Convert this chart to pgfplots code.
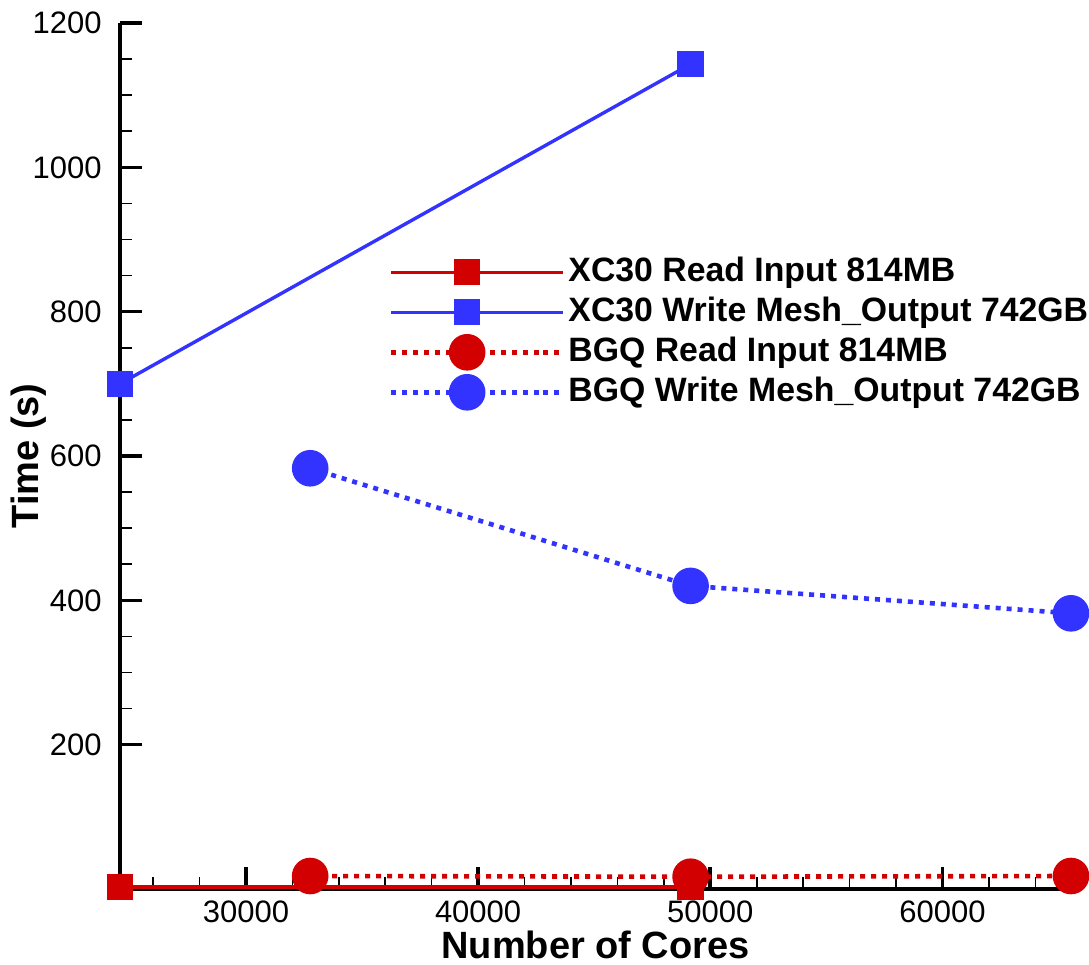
\documentclass[border=0pt]{standalone}
\usepackage{pgfplots}
\pgfplotsset{compat=1.18}
\usepackage{fontspec}
\setmainfont{Liberation Sans}
\definecolor{cred}{RGB}{210,0,0}
\definecolor{cblue}{RGB}{51,51,255}
\begin{document}
\begin{tikzpicture}
\begin{axis}[
  scale only axis,
  width=475.5pt, height=433pt,
  xmin=24576, xmax=65536,
  ymin=0, ymax=1200,
  axis lines=left,
  axis line style={line width=1.8pt, -},
  xtick={30000,40000,50000,60000},
  ytick={200,400,600,800,1000,1200},
  minor xtick={26000,28000,32000,34000,36000,38000,42000,44000,46000,48000,52000,54000,56000,58000,62000,64000},
  minor y tick num=3,
  tick align=inside,
  major tick length=11pt,
  minor tick length=6pt,
  major tick style={black, line width=1.8pt},
  minor tick style={black, line width=0.8pt},
  scaled x ticks=false,
  /pgf/number format/assume math mode=true,
  xticklabel={\pgfmathprintnumber[fixed,1000 sep={}]{\tick}},
  yticklabel={\pgfmathprintnumber[fixed,1000 sep={}]{\tick}},
  tick label style={font=\fontsize{15.5}{18}\selectfont},
  xticklabel style={anchor=base, inner sep=0pt, yshift=-17pt},
  yticklabel style={anchor=east, inner sep=0pt, xshift=-9pt},
  xlabel={\textbf{Number of Cores}},
  ylabel={\textbf{Time (s)}},
  label style={font=\fontsize{19}{22}\selectfont},
  xlabel style={at={(axis description cs:0.5,0)}, anchor=base, inner sep=0pt, yshift=-35pt},
  ylabel style={at={(axis description cs:0,0.5)}, anchor=center, inner sep=0pt, yshift=45.5pt},
  clip=false,
  legend style={at={(0.276,0.738)}, anchor=north west, draw=none, fill=none,
    font=\bfseries\fontsize{16.9}{19}\selectfont, row sep=2pt,
    nodes={text height=12pt, text depth=3pt, inner sep=1.5pt}},
  legend cell align=left,
  legend image code/.code={
    \draw[mark repeat=2,mark phase=2,#1] plot coordinates {(0pt,0pt)(38pt,0pt)(76pt,0pt)};
    \path (76pt,0pt) -- (86pt,0pt);
  },
]
\coordinate (ll) at (rel axis cs:0,0);
\coordinate (ur) at (rel axis cs:1,1);
\addplot[cred, line width=1.7pt, mark=square*, mark size=5.75pt, mark options={solid}]
  coordinates {(24576,3) (49152,3)};
\addlegendentry{XC30 Read Input 814MB}
\addplot[cblue, line width=1.7pt, mark=square*, mark size=5.75pt, mark options={solid}]
  coordinates {(24576,700) (49152,1143)};
\addlegendentry{XC30 Write Mesh\_Output 742GB}
\addplot[cred, line width=2.3pt, dash pattern=on 2.5pt off 3pt, mark=*, mark size=8pt, mark options={solid}]
  coordinates {(32768,18) (49152,17) (65536,18)};
\addlegendentry{BGQ Read Input 814MB}
\addplot[cblue, line width=2.3pt, dash pattern=on 2.5pt off 3pt, mark=*, mark size=8pt, mark options={solid}]
  coordinates {(32768,583) (49152,420) (65536,382)};
\addlegendentry{BGQ Write Mesh\_Output 742GB}
\end{axis}
\path (ll) ++(-60pt,-38pt) coordinate (bba);
\path (ur) ++(9pt,11.5pt) coordinate (bbb);
\pgfresetboundingbox
\path (bba) rectangle (bbb);
\end{tikzpicture}
\end{document}
